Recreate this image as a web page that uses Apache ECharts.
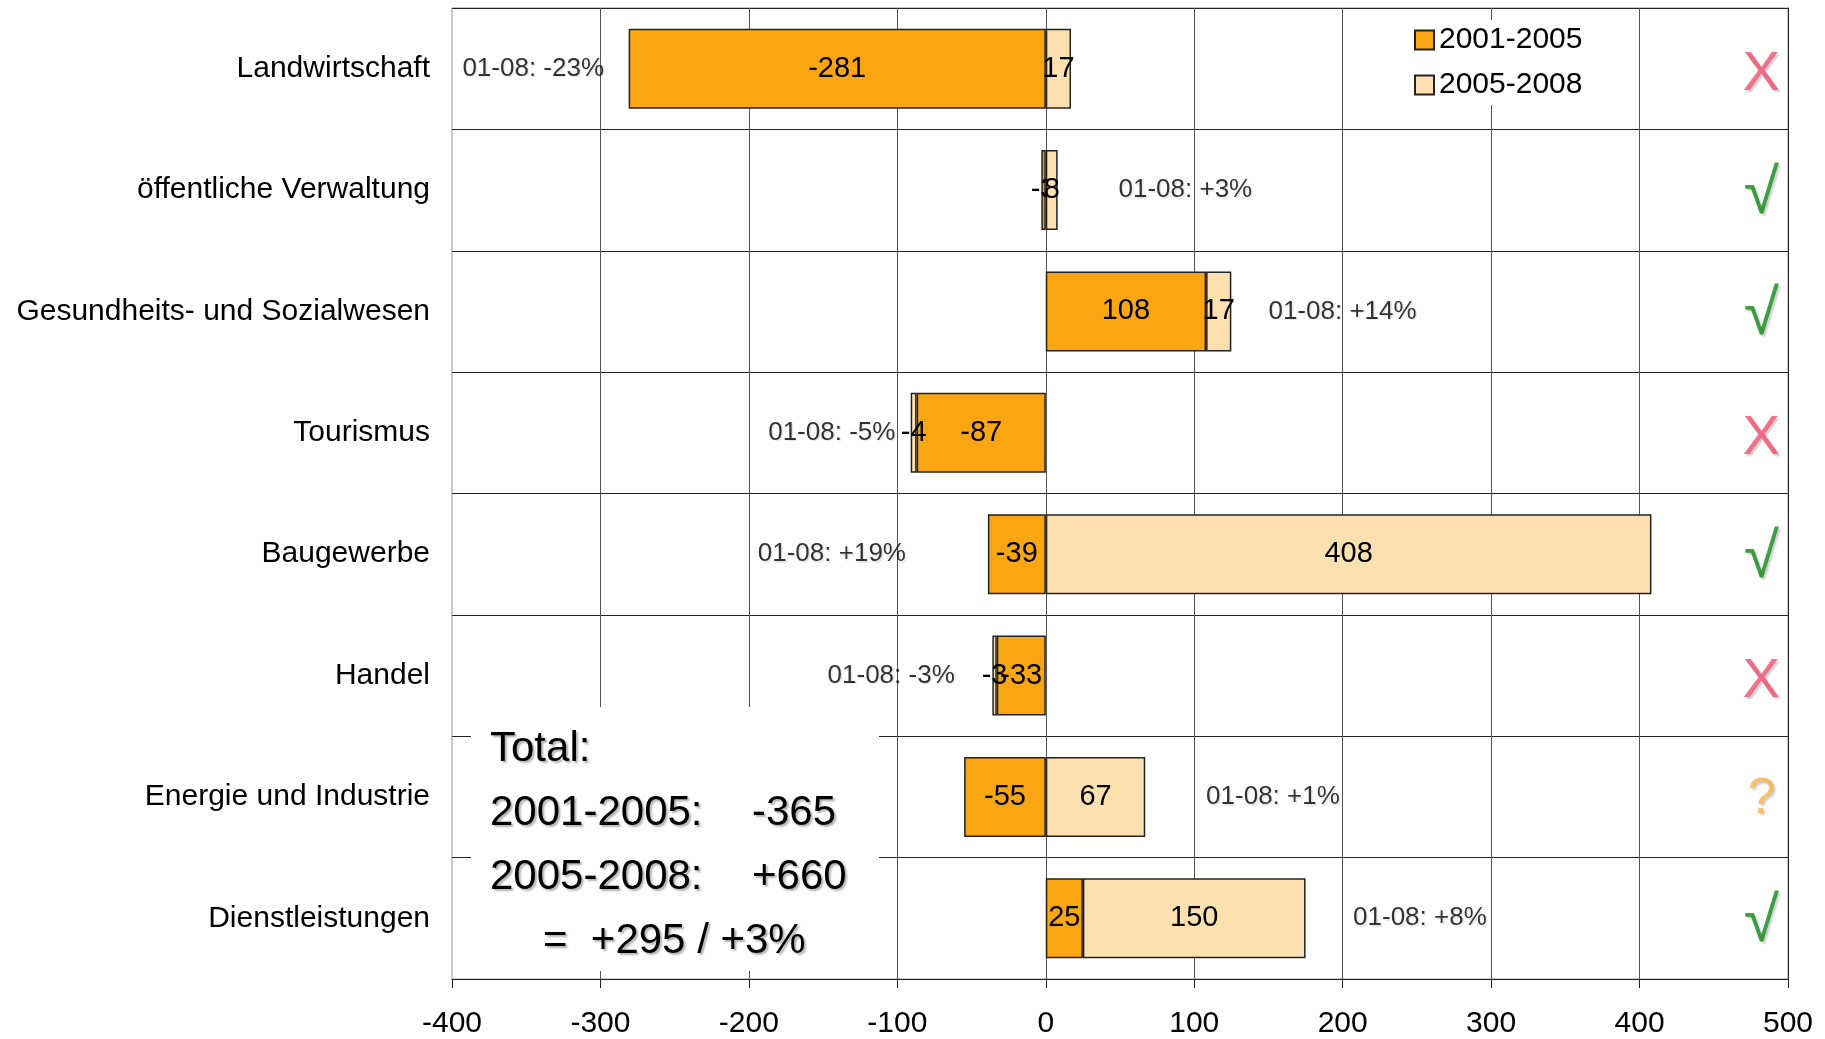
<!DOCTYPE html>
<html>
<head>
<meta charset="utf-8">
<script src="https://cdn.jsdelivr.net/npm/echarts@6/dist/echarts.min.js"></script>
<style>
  html, body { margin: 0; padding: 0; background: #fff; }
  #chart { width: 1825px; height: 1039px; }
</style>
</head>
<body>
<div id="chart"></div>
<script>
// Beschäftigungsentwicklung nach Branchen
const categories = [
  'Landwirtschaft',
  'öffentliche Verwaltung',
  'Gesundheits- und Sozialwesen',
  'Tourismus',
  'Baugewerbe',
  'Handel',
  'Energie und Industrie',
  'Dienstleistungen'
];
const seriesNames = ['2001-2005', '2005-2008'];
const change2001to2005 = [-281, -3, 108, -87, -39, -33, -55, 25];
const change2005to2008 = [17, 8, 17, -4, 408, -3, 67, 150];
const change2001to2008Pct = ['-23%', '+3%', '+14%', '-5%', '+19%', '-3%', '+1%', '+8%'];
// where each "01-08" note starts, in axis units
const noteAnchor = [-393, 49, 150, -187, -194, -147, 108, 207];
const verdicts = ['X', '√', '√', 'X', '√', 'X', '?', '√'];
const xMin = -400, xMax = 500, xStep = 100;
const totalPct = '+3%';

const FONT = '"Liberation Sans", Arial, Helvetica, sans-serif';
const ORANGE = '#F9A612';
const LIGHT = '#FCE0B0';
const VERDICT_X = 482;

const sum = a => a.reduce((s, v) => s + v, 0);
const signed = v => (v > 0 ? '+' : '') + v;
const total1 = sum(change2001to2005);
const total2 = sum(change2005to2008);

const chart = echarts.init(document.getElementById('chart'), null, { renderer: 'canvas' });

const barLabel = {
  show: true,
  position: 'inside',
  color: '#000',
  fontSize: 29,
  fontFamily: FONT
};

const softShadow = {
  textShadowColor: 'rgba(0,0,0,0.12)',
  textShadowBlur: 1,
  textShadowOffsetX: 1.5,
  textShadowOffsetY: 1.5
};
const markShadow = {
  textShadowColor: 'rgba(0,0,0,0.25)',
  textShadowBlur: 2,
  textShadowOffsetX: 2,
  textShadowOffsetY: 2
};

const totalLines = [
  { t: 'Total:', x: 490, y: 749 },
  { t: '2001-2005:', x: 490, y: 813 },
  { t: signed(total1), x: 752, y: 813 },
  { t: '2005-2008:', x: 490, y: 877 },
  { t: signed(total2), x: 752, y: 877 },
  { t: '=  ' + signed(total1 + total2) + ' / ' + totalPct, x: 543, y: 941 }
];

chart.setOption({
  animation: false,
  backgroundColor: '#fff',
  textStyle: { fontFamily: FONT },
  grid: {
    left: 452, right: 37, top: 8, bottom: 57,
    show: true, borderColor: '#999', borderWidth: 1, backgroundColor: 'transparent'
  },
  legend: {
    data: seriesNames,
    orient: 'vertical',
    left: 1408,
    top: 20,
    padding: [5, 6, 5, 6],
    backgroundColor: '#fff',
    itemWidth: 19,
    itemHeight: 19,
    itemGap: 15,
    icon: 'rect',
    textStyle: { fontSize: 30, color: '#000', fontFamily: FONT },
    z: 20
  },
  xAxis: {
    type: 'value',
    min: xMin, max: xMax, interval: xStep,
    axisLine: { show: true, onZero: false, lineStyle: { color: '#222', width: 1 } },
    axisTick: { show: true, length: 9, lineStyle: { color: '#222' } },
    axisLabel: { fontSize: 30, color: '#000', margin: 30, fontFamily: FONT },
    splitLine: { show: true, showMinLine: false, showMaxLine: false, lineStyle: { color: '#555', width: 1 } }
  },
  yAxis: [
    {
      type: 'category',
      data: categories,
      inverse: true,
      position: 'left',
      axisLine: { show: false },
      axisTick: { show: false },
      axisLabel: { fontSize: 30, color: '#000', margin: 22, fontFamily: FONT },
      splitLine: { show: true, lineStyle: { color: '#222', width: 1 } }
    },
    {
      type: 'category',
      data: categories,
      inverse: true,
      position: 'right',
      axisLine: { show: true, onZero: true, lineStyle: { color: '#222', width: 1 } },
      axisTick: { show: true, inside: true, length: 9, lineStyle: { color: '#222' } },
      axisLabel: { show: false },
      splitLine: { show: false }
    }
  ],
  series: [
    {
      name: seriesNames[0],
      type: 'bar',
      stack: 'change',
      yAxisIndex: 0,
      barCategoryGap: '34%',
      data: change2001to2005,
      itemStyle: { color: ORANGE, borderColor: '#222', borderWidth: 1.5 },
      label: barLabel,
      z: 3
    },
    {
      name: seriesNames[1],
      type: 'bar',
      stack: 'change',
      yAxisIndex: 0,
      barCategoryGap: '34%',
      data: change2005to2008,
      itemStyle: { color: LIGHT, borderColor: '#222', borderWidth: 1.5 },
      label: barLabel,
      z: 4
    },
    {
      name: 'notes',
      type: 'scatter',
      yAxisIndex: 0,
      symbolSize: 0,
      silent: true,
      data: noteAnchor.map((x, i) => [x, i]),
      label: Object.assign({
        show: true,
        position: 'right',
        distance: 0,
        fontSize: 26,
        color: '#000',
        fontFamily: FONT,
        formatter: p => '01-08: ' + change2001to2008Pct[p.dataIndex]
      }, softShadow),
      z: 6
    },
    {
      name: 'verdicts',
      type: 'scatter',
      yAxisIndex: 0,
      symbolSize: 0,
      silent: true,
      data: verdicts.map((v, i) => [VERDICT_X, i]),
      label: {
        show: true,
        position: 'inside',
        formatter: p => {
          const v = verdicts[p.dataIndex];
          const key = v === 'X' ? 'no' : v === '?' ? 'maybe' : 'yes';
          return '{' + key + '|' + v + '}';
        },
        rich: {
          no: Object.assign({ color: '#F2506F', fontSize: 56, fontFamily: FONT, padding: [12, 0, 0, 0] }, markShadow),
          yes: Object.assign({ color: '#138A17', fontSize: 64, fontFamily: FONT, padding: [10, 0, 0, 0] }, markShadow),
          maybe: Object.assign({ color: '#F7B446', fontSize: 50, fontFamily: FONT, padding: [4, 0, 0, 0] }, markShadow)
        }
      },
      z: 6
    }
  ],
  graphic: [
    {
      type: 'rect',
      z: 50,
      shape: { x: 471, y: 707, width: 408, height: 264 },
      style: { fill: '#fff' }
    }
  ].concat(totalLines.map(l => ({
    type: 'text',
    z: 51,
    x: l.x,
    y: l.y,
    style: {
      text: l.t,
      fontSize: 42,
      fontFamily: FONT,
      fill: '#000',
      align: 'left',
      verticalAlign: 'middle',
      textShadowColor: 'rgba(0,0,0,0.3)',
      textShadowBlur: 2,
      textShadowOffsetX: 2,
      textShadowOffsetY: 2
    }
  })))
});
</script>
</body>
</html>
